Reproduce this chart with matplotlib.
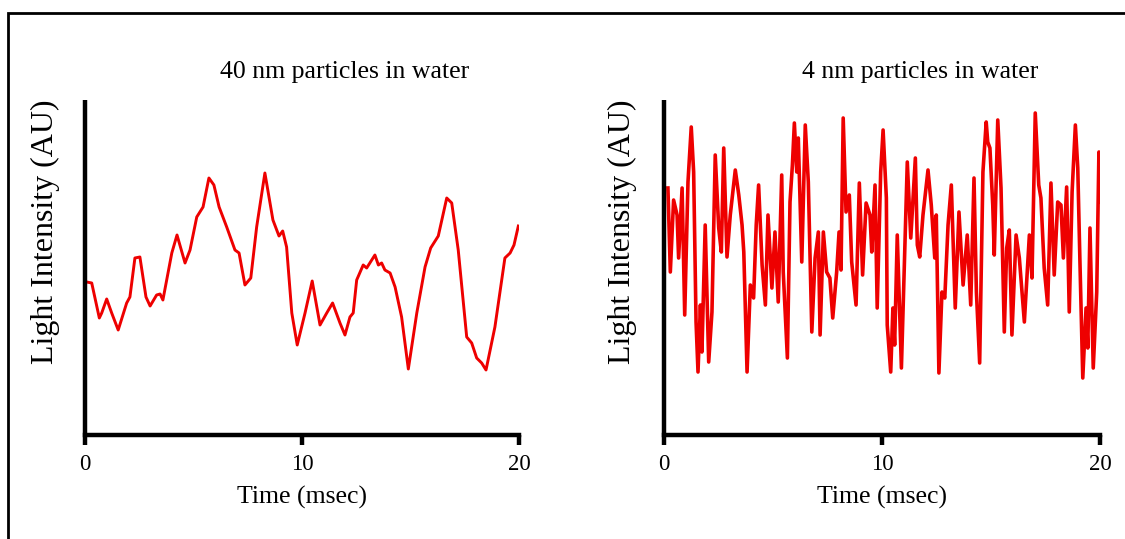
import matplotlib
matplotlib.use("Agg")
import matplotlib.pyplot as plt
from matplotlib.patches import Rectangle

# ---- data ----
titles = ["40 nm particles in water", "4 nm particles in water"]
xlabel = "Time (msec)"
ylabel = "Light Intensity (AU)"
xticks = [0, 10, 20]

t40 = [0.08, 0.31, 0.66, 0.77, 1.00, 1.23, 1.53, 1.92, 2.07, 2.30, 2.53, 2.81, 3.00, 3.30,
       3.46, 3.59, 4.00, 4.24, 4.61, 4.84, 5.15, 5.44, 5.71, 5.94, 6.18, 6.53, 6.91, 7.10,
       7.37, 7.64, 7.91, 8.29, 8.66, 8.94, 9.11, 9.29, 9.53, 9.78, 10.14, 10.47, 10.83,
       11.14, 11.41, 11.75, 11.98, 12.21, 12.36, 12.52, 12.82, 12.98, 13.36, 13.52, 13.67,
       13.82, 14.06, 14.29, 14.59, 14.90, 15.29, 15.67, 15.93, 16.28, 16.67, 16.90, 17.20,
       17.59, 17.82, 18.05, 18.28, 18.48, 18.89, 19.35, 19.59, 19.77, 19.97]
i40 = [153, 152, 117, 122, 136, 122, 105, 132, 138, 177, 178, 138, 129, 140,
       141, 135, 182, 200, 172, 185, 218, 228, 257, 250, 228, 208, 185, 182,
       150, 157, 208, 262, 215, 199, 204, 188, 122, 90, 122, 154, 110,
       122, 132, 112, 100, 118, 122, 155, 170, 167, 180, 170, 172,
       165, 162, 148, 118, 66, 122, 168, 187, 199, 237, 232, 185,
       98, 92, 77, 72, 65, 108, 177, 182, 190, 209]

t4 = [0.18, 0.29, 0.44, 0.60, 0.67, 0.83, 0.95, 1.10, 1.25, 1.36, 1.47, 1.56, 1.67, 1.74,
      1.89, 2.05, 2.20, 2.35, 2.51, 2.63, 2.74, 2.89, 3.04, 3.27, 3.43, 3.58, 3.66, 3.81,
      3.96, 4.11, 4.23, 4.34, 4.50, 4.65, 4.77, 4.95, 5.09, 5.24, 5.40, 5.47, 5.66, 5.78,
      5.89, 5.98, 6.09, 6.16, 6.32, 6.48, 6.62, 6.78, 6.93, 7.08, 7.16, 7.31, 7.46, 7.61,
      7.74, 7.92, 8.03, 8.12, 8.22, 8.35, 8.50, 8.61, 8.81, 8.96, 9.11, 9.27, 9.45, 9.53,
      9.68, 9.78, 9.94, 10.05, 10.20, 10.24, 10.40, 10.50, 10.58, 10.70, 10.89, 11.16,
      11.32, 11.53, 11.62, 11.73, 11.88, 12.11, 12.26, 12.42, 12.49, 12.61, 12.75, 12.88,
      13.03, 13.18, 13.36, 13.53, 13.72, 13.91, 14.07, 14.22, 14.33, 14.48, 14.63, 14.78,
      14.85, 14.95, 15.08, 15.15, 15.31, 15.46, 15.61, 15.72, 15.84, 15.96, 16.15, 16.30,
      16.53, 16.76, 16.88, 17.03, 17.19, 17.29, 17.44, 17.60, 17.75, 17.90, 18.06, 18.21,
      18.32, 18.47, 18.59, 18.72, 18.87, 18.98, 19.08, 19.21, 19.36, 19.44, 19.54, 19.69,
      19.85, 19.95, 20.00]
i4 = [247, 163, 235, 220, 177, 247, 120, 253, 308, 263, 113, 63, 130, 83,
      210, 73, 123, 280, 207, 183, 287, 178, 220, 265, 240, 210, 183, 63,
      150, 137, 210, 250, 170, 130, 220, 147, 203, 133, 260, 163, 77, 233,
      270, 312, 263, 297, 173, 310, 253, 103, 177, 203, 100, 203, 163, 157,
      117, 163, 203, 165, 317, 223, 240, 173, 130, 252, 160, 232, 220, 183,
      250, 127, 263, 305, 237, 110, 63, 127, 90, 200, 67, 273,
      197, 277, 190, 178, 220, 265, 230, 177, 220, 62, 143, 137,
      210, 250, 127, 223, 150, 200, 130, 257, 143, 72, 263, 313,
      293, 287, 230, 180, 315, 247, 103, 187, 205, 100, 200, 177,
      113, 200, 157, 322, 250, 237, 167, 130, 252, 160, 233, 230,
      177, 248, 123, 243, 310, 267, 173, 57, 127, 87, 207, 67,
      143, 283, 233]

series = [(t40, i40, 2.1), (t4, i4, 2.6)]

plt.rcParams['font.family'] = ['Liberation Serif', 'DejaVu Serif']

W, H = 1125, 539
fig = plt.figure(figsize=(W / 100, H / 100), dpi=100)

ax_px = [(85, 519), (664, 1100)]
y_top, y_bot = 100, 435
title_x = [345, 920]
ylab_x = [45, 622]

for k, ((x0, x1), (tt, ii, lw)) in enumerate(zip(ax_px, series)):
    ax = fig.add_axes([x0 / W, (H - y_bot) / H, (x1 - x0) / W, (y_bot - y_top) / H])
    ax.plot(tt, ii, color='#ee0000', lw=lw, solid_joinstyle='round')
    ax.set_xlim(0, 20)
    ax.set_ylim(0, 335)
    for s in ['top', 'right']:
        ax.spines[s].set_visible(False)
    for s in ['left', 'bottom']:
        ax.spines[s].set_linewidth(3.2)
        ax.spines[s].set_color('black')
    ax.spines['left'].set_capstyle('butt')
    ax.set_yticks([])
    ax.set_xticks(xticks)
    ax.set_xticklabels([str(v) for v in xticks], fontsize=16.5)
    ax.tick_params(axis='x', direction='out', length=7, width=3.2, pad=7)
    ax.patch.set_alpha(0)
    fig.text(title_x[k] / W, 1 - 72 / H, titles[k], ha='center', va='center', fontsize=18.5)
    fig.text((x0 + x1) / 2 / W, 1 - 497 / H, xlabel, ha='center', va='center', fontsize=18.5)
    fig.text(ylab_x[k] / W, 1 - 232 / H, ylabel, ha='center', va='center',
             rotation=90, fontsize=23)

fig.add_artist(Rectangle((8 / W, -0.2), 1.3, 1.2 - 13 / H, transform=fig.transFigure,
                         fill=False, lw=2, edgecolor='black'))

fig.savefig('out.png', dpi=100)
